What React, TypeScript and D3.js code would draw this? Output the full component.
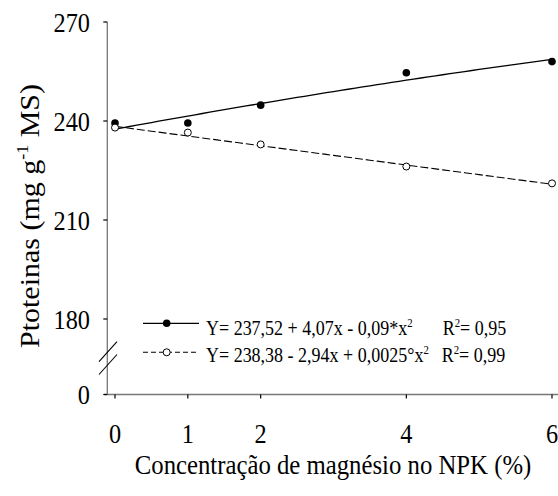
import React from "react";
import * as d3 from "d3";

const xTicks = [0, 1, 2, 4, 6];
const yTicks = [0, 180, 210, 240, 270];
const doses = [0, 1, 2, 4, 6];
const filledValues = [239.4, 239.4, 244.8, 254.6, 258.0];
const openValues = [238.0, 236.5, 232.9, 226.2, 221.1];
// regression coefficients printed in the legend: a + b x + c x^2
const filledCoef = [237.52, 4.07, -0.09];
const openCoef = [238.38, -2.94, 0.0025];

const W = 558;
const H = 496;
const FONT = '"Liberation Serif", "Times New Roman", Times, serif';
const SX = 0.9;

export default function App() {
  const x = d3.scaleLinear().domain([0, 6]).range([115, 552]);
  const y = d3.scaleLinear().domain([0, 180, 270]).range([394.5, 319, 22]);
  const axisX = 107.3;
  const axisY = 394.5;

  const fitPts = (c: number[]) =>
    d3.range(0, 6.0001, 0.1).map((t) => [t, c[0] + c[1] * t + c[2] * t * t] as [number, number]);
  const line = d3
    .line<[number, number]>()
    .x((d) => x(d[0]))
    .y((d) => y(d[1]));

  const sText = (tx: number, ty: number) => `translate(${tx},${ty}) scale(${SX},1)`;
  const ts = { fontFamily: FONT };

  return (
    <svg
      width={W}
      height={H}
      style={{ position: "absolute", left: 0, top: 0, background: "#fff", fontFamily: FONT }}
    >
      {/* axes */}
      <line x1={axisX} x2={axisX} y1={22} y2={axisY} stroke="#777" strokeWidth={1.3} />
      <line x1={104} x2={558} y1={axisY} y2={axisY} stroke="#777" strokeWidth={1.3} />
      {yTicks.map((t) => (
        <g key={"yt" + t}>
          <line x1={axisX - 4} x2={axisX} y1={y(t)} y2={y(t)} stroke="#000" strokeWidth={1.2} />
          <text style={ts} transform={sText(90, y(t) + 9.5)} textAnchor="end" fontSize={27} fill="#000">
            {t}
          </text>
        </g>
      ))}
      {xTicks.map((t) => (
        <g key={"xt" + t}>
          <line x1={x(t)} x2={x(t)} y1={axisY} y2={axisY + 4} stroke="#000" strokeWidth={1.2} />
          <text style={ts} transform={sText(x(t), 443)} textAnchor="middle" fontSize={27} fill="#000">
            {t}
          </text>
        </g>
      ))}
      {/* axis break */}
      <line x1={117} y1={341.7} x2={99} y2={361.7} stroke="#000" strokeWidth={1.1} />
      <line x1={117} y1={354.5} x2={99} y2={374.5} stroke="#000" strokeWidth={1.1} />

      {/* titles */}
      <text style={ts} transform={sText(333, 474)} textAnchor="middle" fontSize={27.5} fill="#000">
        Concentração de magnésio no NPK (%)
      </text>
      <text
        style={ts}
        transform={`translate(38.5,216) rotate(-90) scale(1,${SX})`}
        textAnchor="middle"
        fontSize={30}
        fill="#000"
      >
        Ptoteinas (mg g
        <tspan dy={-12} fontSize={18}>-1</tspan>
        <tspan dy={12}> MS)</tspan>
      </text>

      {/* fitted curves */}
      <path d={line(fitPts(filledCoef)) || ""} fill="none" stroke="#000" strokeWidth={1.3} />
      <path
        d={line(fitPts(openCoef)) || ""}
        fill="none"
        stroke="#000"
        strokeWidth={1.1}
        strokeDasharray="8,3"
      />
      {/* points */}
      {doses.map((d, i) => (
        <circle key={"f" + i} cx={x(d)} cy={y(filledValues[i])} r={3.8} fill="#000" />
      ))}
      {doses.map((d, i) => (
        <circle
          key={"o" + i}
          cx={x(d)}
          cy={y(openValues[i])}
          r={3.5}
          fill="#fff"
          stroke="#000"
          strokeWidth={1}
        />
      ))}

      {/* legend */}
      <line x1={143} x2={199} y1={323.3} y2={323.3} stroke="#000" strokeWidth={1.3} />
      <circle cx={166.7} cy={323.3} r={3.8} fill="#000" />
      <line
        x1={143}
        x2={199}
        y1={352.3}
        y2={352.3}
        stroke="#000"
        strokeWidth={1.1}
        strokeDasharray="5,3"
      />
      <circle cx={166.7} cy={352.3} r={3.5} fill="#fff" stroke="#000" strokeWidth={1} />
      <text style={ts} transform={sText(206, 334.5)} fontSize={20} fill="#000">
        Y= 237,52 + 4,07x - 0,09*x
        <tspan dy={-8} fontSize={12}>2</tspan>
      </text>
      <text style={ts} transform={sText(442.7, 334.5)} fontSize={20} fill="#000">
        R<tspan dy={-8} fontSize={12}>2</tspan>
        <tspan dy={8}>= 0,95</tspan>
      </text>
      <text style={ts} transform={sText(206, 361.5)} fontSize={20} fill="#000">
        Y= 238,38 - 2,94x + 0,0025°x
        <tspan dy={-8} fontSize={12}>2</tspan>
      </text>
      <text style={ts} transform={sText(441.7, 361.5)} fontSize={20} fill="#000">
        R<tspan dy={-8} fontSize={12}>2</tspan>
        <tspan dy={8}>= 0,99</tspan>
      </text>
    </svg>
  );
}
